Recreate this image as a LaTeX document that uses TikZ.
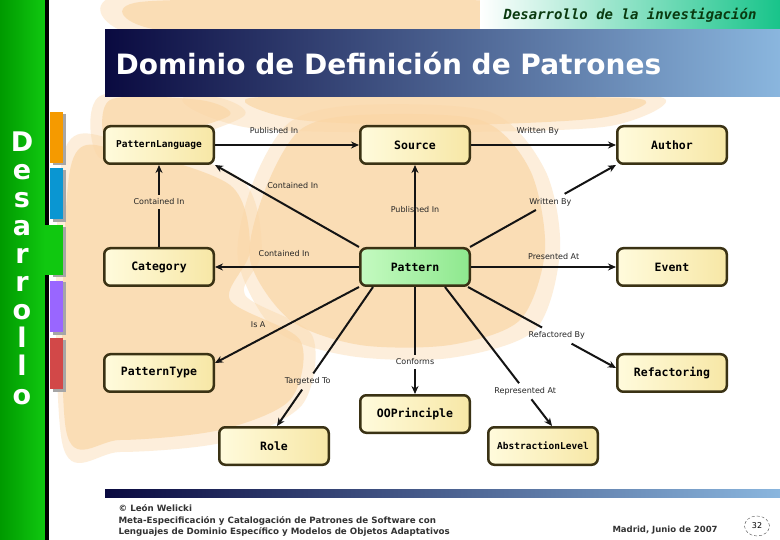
\documentclass[tikz,border=0pt]{standalone}
\usepackage{fontspec}
\setmainfont{DejaVu Sans}
\newfontfamily\monofam{DejaVu Sans Mono}
\usetikzlibrary{arrows.meta, shapes.geometric}

\definecolor{peach}{HTML}{FAD6A6}
\definecolor{boxedge}{HTML}{3A3214}
\definecolor{boxlight}{HTML}{FFFBDC}
\definecolor{boxdark}{HTML}{F7E7A6}
\definecolor{patlight}{HTML}{C4FAC0}
\definecolor{patdark}{HTML}{8EE88E}
\definecolor{navy}{HTML}{0A0A40}
\definecolor{skyblue}{HTML}{8AB6DE}
\definecolor{barleft}{HTML}{009A00}
\definecolor{barright}{HTML}{10C810}
\definecolor{mint}{HTML}{18C48A}
\definecolor{headgreen}{HTML}{0A3A10}
\definecolor{linkcol}{HTML}{141414}
\definecolor{taborange}{HTML}{F59A00}
\definecolor{tabblue}{HTML}{0A96D2}
\definecolor{tabpurple}{HTML}{9966FF}
\definecolor{tabred}{HTML}{D24848}

\tikzset{
  entity/.style={draw=boxedge, line width=2.5pt, rounded corners=6pt,
    minimum width=109.5pt, minimum height=37.5pt, inner sep=0pt,
    left color=boxlight, right color=boxdark,
    font=\monofam\bfseries\fontsize{11.5}{12}\selectfont},
  core/.style={entity, left color=patlight, right color=patdark},
  longname/.style={font=\monofam\bfseries\fontsize{9.5}{10}\selectfont},
  rel/.style={font=\fontsize{8}{9}\selectfont, text=black!85, inner sep=1pt},
  relcut/.style={rel, inner xsep=2pt, inner ysep=4pt},
  arr/.style={line width=2pt, draw=linkcol, -{Stealth[length=8pt,width=7pt]}},
  link/.style={line width=2pt, draw=linkcol},
  sidetab/.style={draw=none, minimum width=13pt, minimum height=51pt, inner sep=0pt},
  letter/.style={text=white, anchor=base, font=\bfseries\fontsize{27}{27}\selectfont},
  foot/.style={anchor=base west, text=black!80, font=\bfseries\fontsize{8.7}{9}\selectfont},
  wash/.style={fill=peach, opacity=.4},
  blob/.style={fill=peach, opacity=.7},
}

\begin{document}
\begin{tikzpicture}[x=1pt,y=-1pt]
  \useasboundingbox (0,0) rectangle (780,540);
  \fill[white] (0,0) rectangle (780,540);

  % watercolour background
  \fill[wash] plot[smooth cycle] coordinates {(120,-5) (400,-5) (660,0) (670,34) (400,40) (140,36)};
  \fill[blob] plot[smooth cycle] coordinates {(140,2) (400,0) (640,4) (650,28) (400,34) (160,30)};
  \fill[wash] plot[smooth cycle] coordinates {(190,95) (450,95) (660,97) (610,126) (450,132) (250,128)};
  \fill[blob] plot[smooth cycle] coordinates {(250,98) (450,97) (640,99) (600,118) (450,125) (300,120)};
  \fill[wash] plot[smooth cycle] coordinates {(290,122) (360,105) (490,112) (545,170) (560,250) (535,330) (450,358) (350,356) (275,330) (238,260) (252,185)};
  \fill[blob] plot[smooth cycle] coordinates {(300,130) (360,115) (480,120) (530,170) (545,250) (520,320) (450,345) (360,345) (290,320) (250,260) (265,190)};
  \fill[wash] plot[smooth cycle] coordinates {(62,160) (120,140) (240,178) (262,250) (245,295) (312,335) (302,405) (225,442) (120,452) (62,442)};
  \fill[blob] plot[smooth cycle] coordinates {(70,170) (120,150) (230,185) (250,250) (230,300) (300,340) (290,400) (220,430) (120,440) (66,430)};
  \fill[wash] plot[smooth cycle] coordinates {(100,96) (210,96) (245,115) (175,142) (100,158)};
  \fill[blob] plot[smooth cycle] coordinates {(110,100) (200,100) (230,115) (170,135) (110,150)};

  % header
  \shade[left color=white, right color=mint] (480,0) rectangle (780,30);
  \node[anchor=east, text=headgreen, font=\monofam\bfseries\itshape\fontsize{14}{14}\selectfont] (subtitle) at (760,15) {Desarrollo de la investigación};
  \shade[left color=navy, right color=skyblue] (105,30) rectangle (780,97);
  \node[anchor=west, text=white, font=\bfseries\fontsize{28}{28}\selectfont] (title) at (112,64) {Dominio de Definición de Patrones};

  % side bar
  \shade[left color=barleft, right color=barright] (0,0) rectangle (45,540);
  \fill[black] (45,0) rectangle (49,540);
  \fill[gray!70] (53,114) rectangle (66,165);
  \fill[gray!70] (53,170) rectangle (66,222);
  \fill[gray!70] (53,227) rectangle (66,277);
  \fill[gray!70] (53,282) rectangle (66,335);
  \fill[gray!70] (53,340) rectangle (66,392);
  \node[sidetab, fill=taborange] (tab1) at (56.5,137.5) {};
  \node[sidetab, fill=tabblue] (tab2) at (56.5,194) {};
  \fill[barright] (45,225) rectangle (63,275);
  \node[sidetab, fill=tabpurple] (tab4) at (56.5,306.5) {};
  \node[sidetab, fill=tabred] (tab5) at (56.5,364) {};
  \foreach \ch [count=\i from 0] in {D,e,s,a,r,r,o,l,l,o}
    \node[letter] (ch\i) at (22,152+28*\i) {\ch};

  % concepts
  \node[entity, longname] (lang) at (159,145) {PatternLanguage};
  \node[entity] (src) at (415,145) {Source};
  \node[entity] (auth) at (672,145) {Author};
  \node[entity] (cat) at (159,267) {Category};
  \node[core] (pat) at (415,267) {Pattern};
  \node[entity] (evt) at (672,267) {Event};
  \node[entity] (ptype) at (159,373) {PatternType};
  \node[entity] (refac) at (672,373) {Refactoring};
  \node[entity] (oop) at (415,414) {OOPrinciple};
  \node[entity] (role) at (274,446) {Role};
  \node[entity, longname] (abst) at (543,446) {AbstractionLevel};

  % relations
  \draw[arr] (lang) -- node[rel, pos=.41, yshift=14pt] {Published In} (src);
  \draw[arr] (src) -- node[rel, pos=.46, yshift=14pt] {Written By} (auth);
  \draw[arr] (pat) -- node[rel, pos=.46] {Published In} (src);
  \draw[arr] (pat.north west) -- node[rel, pos=.46, yshift=24pt] {Contained In} (lang.south east);
  \draw[arr] (pat) -- node[rel, pos=.52, yshift=13pt] {Contained In} (cat);
  \draw[arr] (pat) -- node[rel, pos=.57, yshift=10pt] {Presented At} (evt);
  \draw[arr] (pat.south west) -- node[rel, pos=.70, yshift=16pt] {Is A} ([yshift=10pt]ptype.east);

  \path (cat) -- node[relcut, pos=.55] (ci) {Contained In} (lang);
  \draw[link] (cat) -- (ci);
  \draw[arr] (ci) -- (lang);

  \path ([xshift=-1pt]pat.north east) -- node[relcut, pos=.55] (wb) {Written By} (auth.south west);
  \draw[link] ([xshift=-1pt]pat.north east) -- (wb);
  \draw[arr] (wb) -- (auth.south west);

  \path ([xshift=14pt]pat.south west) -- node[relcut, pos=.68] (tt) {Targeted To} ([xshift=3pt]role.north);
  \draw[link] ([xshift=14pt]pat.south west) -- (tt);
  \draw[arr] (tt) -- ([xshift=3pt]role.north);

  \path (pat) -- node[relcut, pos=.70] (cf) {Conforms} (oop);
  \draw[link] (pat) -- (cf);
  \draw[arr] (cf) -- (oop);

  \path ([xshift=-26pt]pat.south east) -- node[relcut, pos=.75] (ra) {Represented At} ([xshift=9pt]abst.north);
  \draw[link] ([xshift=-26pt]pat.south east) -- (ra);
  \draw[arr] (ra) -- ([xshift=9pt]abst.north);

  \path ([xshift=-3pt]pat.south east) -- node[relcut, pos=.6] (rb) {Refactored By} ([yshift=5pt]refac.west);
  \draw[link] ([xshift=-3pt]pat.south east) -- (rb);
  \draw[arr] (rb) -- ([yshift=5pt]refac.west);

  % footer
  \shade[left color=navy, right color=skyblue] (105,489) rectangle (780,497);
  \node[foot] (copy) at (115,511) {© León Welicki};
  \node[foot] (ref1) at (115,523) {Meta-Especificación y Catalogación de Patrones de Software con};
  \node[foot] (ref2) at (115,534) {Lenguajes de Dominio Específico y Modelos de Objetos Adaptativos};
  \node[foot, font=\bfseries\fontsize{8.5}{9}\selectfont] (place) at (609,532) {Madrid, Junio de 2007};
  \node[draw=black!70, densely dashed, ellipse, minimum width=25pt, minimum height=20pt, inner sep=0pt, font=\fontsize{8}{9}\selectfont] (pnum) at (757,526) {32};
\end{tikzpicture}
\end{document}
